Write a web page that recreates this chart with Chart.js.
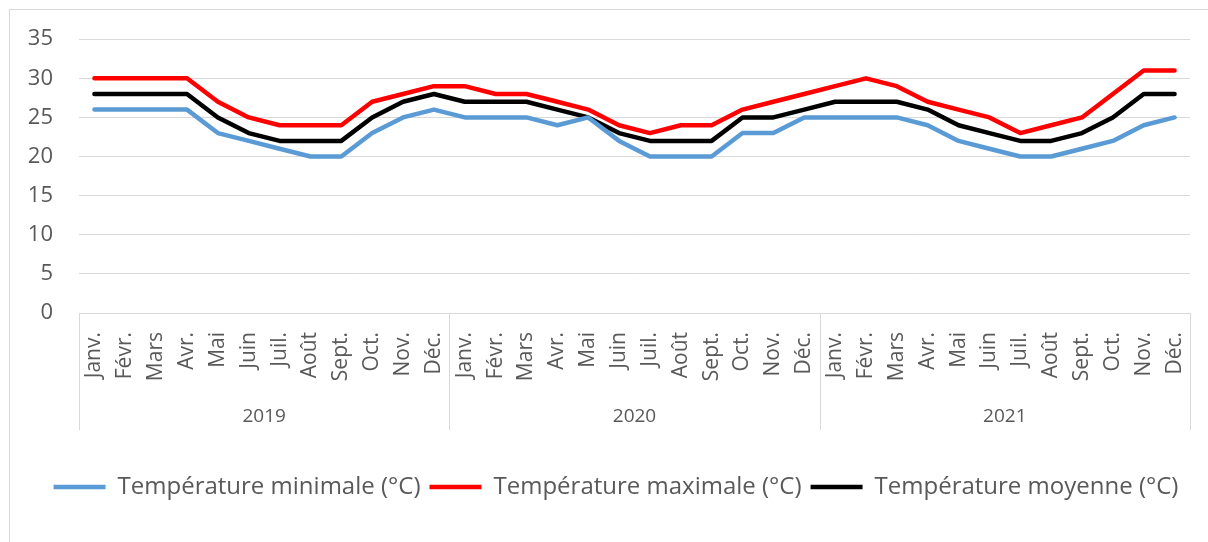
<!DOCTYPE html>
<html>
<head>
<meta charset="utf-8">
<script src="https://cdn.jsdelivr.net/npm/chart.js@4.4.1/dist/chart.umd.min.js"></script>
<style>
  html, body { margin: 0; padding: 0; background: #fff; overflow: hidden; }
  #frame { position: absolute; left: 9px; top: 9px; width: 1300px; height: 600px; border: 1px solid #d9d9d9; }
  #wrap { position: absolute; left: 0; top: 0; width: 1208px; height: 542px; }
</style>
</head>
<body>
<div id="frame"></div>
<div id="wrap"><canvas id="chart"></canvas></div>
<script>
const years = ['2019', '2020', '2021'];
const months = ['Janv.', 'Févr.', 'Mars', 'Avr.', 'Mai', 'Juin', 'Juil.', 'Août', 'Sept.', 'Oct.', 'Nov.', 'Déc.'];

// values read month by month, 2019 -> 2021
const tMin = [26, 26, 26, 26, 23, 22, 21, 20, 20, 23, 25, 26,
              25, 25, 25, 24, 25, 22, 20, 20, 20, 23, 23, 25,
              25, 25, 25, 24, 22, 21, 20, 20, 21, 22, 24, 25];
const tMax = [30, 30, 30, 30, 27, 25, 24, 24, 24, 27, 28, 29,
              29, 28, 28, 27, 26, 24, 23, 24, 24, 26, 27, 28,
              29, 30, 29, 27, 26, 25, 23, 24, 25, 28, 31, 31];
const tMoy = [28, 28, 28, 28, 25, 23, 22, 22, 22, 25, 27, 28,
              27, 27, 27, 26, 25, 23, 22, 22, 22, 25, 25, 26,
              27, 27, 27, 26, 24, 23, 22, 22, 23, 25, 28, 28];

const labels = years.flatMap(() => months);
const FONT = '"Open Sans", sans-serif';
const GREY = '#d9d9d9';
const TXT = '#595959';

// vertical lines between the year groups under the axis
const yearSeparators = {
    id: 'yearSeparators',
    afterLayout(chart) {
        // legend sits a bit right of centre in the original
        chart.legend.left += 21;
        chart.legend.right += 21;
    },
    afterDraw(chart) {
        const x = chart.scales.x, x2 = chart.scales.x2, ctx = chart.ctx;
        const step = x.width / years.length;
        ctx.save();
        ctx.strokeStyle = GREY;
        ctx.lineWidth = 1;
        for (let k = 0; k <= years.length; k++) {
            const px = Math.round(x.left + k * step) + 0.5;
            ctx.beginPath();
            ctx.moveTo(px, x.top);
            ctx.lineTo(px, x2.top + 37);
            ctx.stroke();
        }
        ctx.restore();
    }
};

const line = (label, data, color) => ({
    label, data,
    borderColor: color, backgroundColor: color,
    borderWidth: 4.5, borderCapStyle: 'round', borderJoinStyle: 'round',
    pointRadius: 0, tension: 0
});

new Chart(document.getElementById('chart'), {
    type: 'line',
    data: {
        labels,
        datasets: [
            line('Température minimale (°C)', tMin, '#5b9bd5'),
            line('Température maximale (°C)', tMax, '#ff0000'),
            line('Température moyenne (°C)', tMoy, '#000000')
        ]
    },
    plugins: [yearSeparators],
    options: {
        responsive: true,
        maintainAspectRatio: false,
        animation: false,
        layout: { padding: { left: 0, right: 18, top: 39, bottom: 33 } },
        plugins: {
            tooltip: { enabled: false },
            legend: {
                position: 'bottom',
                labels: {
                    usePointStyle: true, pointStyle: 'line', pointStyleWidth: 52,
                    color: TXT, font: { family: FONT, size: 24 }, padding: 9
                }
            }
        },
        scales: {
            x: {
                offset: true,
                grid: { display: false, drawTicks: false },
                border: { color: GREY, width: 1 },
                ticks: { autoSkip: false, minRotation: 90, maxRotation: 90, padding: 19, color: TXT, font: { family: FONT, size: 21 } },
                afterFit: s => { s.height = 80; s.paddingLeft = 0; s.paddingRight = 0; }
            },
            x2: {
                type: 'category',
                labels: years,
                offset: true,
                position: 'bottom',
                grid: { display: false, drawTicks: false },
                border: { display: false },
                ticks: { padding: 12, color: TXT, font: { family: FONT, size: 19 } },
                afterFit: s => { s.height = 73; }
            },
            y: {
                min: 0, max: 35,
                ticks: { stepSize: 5, padding: 26, color: TXT, font: { family: FONT, size: 22 } },
                grid: { color: GREY, lineWidth: 1, drawTicks: false },
                border: { display: false },
                afterFit: s => { s.width = 79; }
            }
        }
    }
});
</script>
</body>
</html>
